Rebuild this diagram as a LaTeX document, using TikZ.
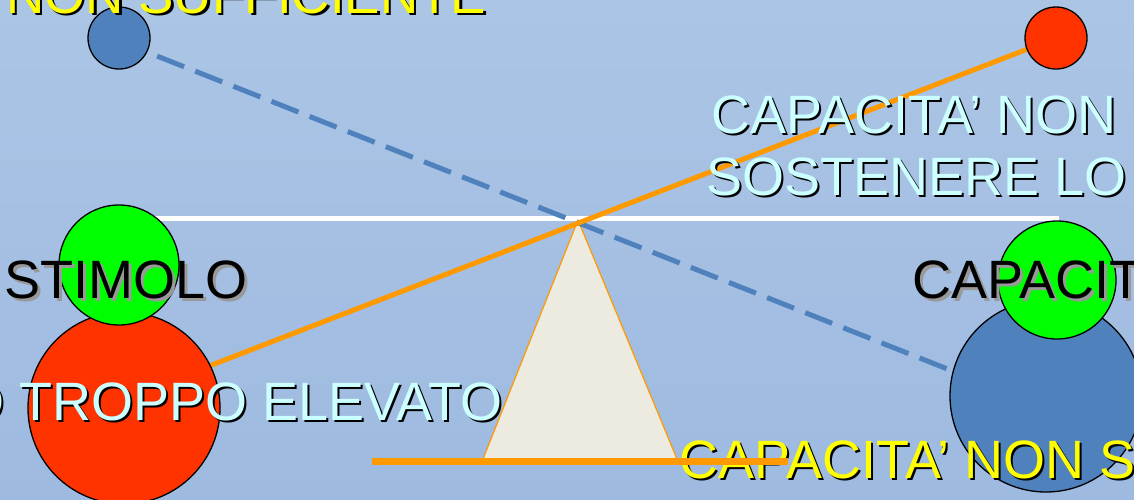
\documentclass[tikz,border=0pt]{standalone}
\usepackage{fontspec}
\setmainfont{Liberation Sans}
\definecolor{bgtop}{RGB}{171,197,229}
\definecolor{bgbot}{RGB}{158,186,224}
\definecolor{yelT}{RGB}{255,255,0}
\definecolor{cyaT}{RGB}{204,255,255}
\definecolor{orL}{RGB}{255,153,0}
\definecolor{redC}{RGB}{255,51,0}
\definecolor{bluC}{RGB}{79,129,189}
\definecolor{grnC}{RGB}{0,255,0}
\definecolor{triF}{RGB}{237,234,224}
\begin{document}
\begin{tikzpicture}[x=1pt,y=-1pt,
  tx/.style={anchor=base west, inner sep=0pt, font=\fontsize{54}{62}\selectfont},
  txs/.style={anchor=base west, inner sep=0pt, font=\fontsize{53}{62}\selectfont},
  shd/.style={tx, text=black},
  shdg/.style={tx, text=black!40},
  ball/.style={circle, draw=black, line width=1.3pt, inner sep=0pt, minimum size=#1},
  lever/.style={draw=orL, line width=5pt},
  dashline/.style={draw=bluC, line width=5pt, dash pattern=on 29pt off 12pt}
]
\useasboundingbox (0,0) rectangle (1134,499);
\clip (0,0) rectangle (1134,499);
\shade[top color=bgtop, bottom color=bgbot] (0,0) rectangle (1134,499);

% white beam
\coordinate (wA) at (155,218);
\coordinate (wB) at (1059,218);
\draw[white, line width=5pt] (wA) -- (wB);

% fulcrum
\coordinate (apex) at (578,220);
\coordinate (bl) at (483,459);
\coordinate (br) at (677,459);
\filldraw[fill=triF, draw=orL, line width=1.2pt, line join=round] (apex) -- (bl) -- (br) -- cycle;

% lines
\coordinate (dA) at (119,41);
\coordinate (dB) at (1046,408);
\draw[dashline] (dA) -- (dB);
\coordinate (lA) at (124,399);
\coordinate (lB) at (1056,38);
\draw[lever] (lA) -- (lB);

% circles
\node[ball=192pt, fill=redC] (redL) at (124,408) {};
\node[ball=120pt, fill=grnC] (grnL) at (119,265) {};
\node[ball=192pt, fill=bluC] (bluR) at (1046,396) {};
\node[ball=118pt, fill=grnC] (grnR) at (1057,280) {};
\node[ball=62pt, fill=bluC] (bluS) at (119,38) {};
\node[ball=62pt, fill=redC] (redS) at (1056,38) {};

% texts
\node[txs, text=black] (t1s) at (8.5,15.5) {NON SUFFICIENTE};
\node[txs, text=yelT] (t1) at (6,13) {NON SUFFICIENTE};

\node[shd] (t2s) at (713.5,135.5) {CAPACITA’ NON};
\node[tx, text=cyaT] (t2) at (711,133) {CAPACITA’ NON};
\node[shd] (t3s) at (708.5,197.5) {SOSTENERE LO};
\node[tx, text=cyaT] (t3) at (706,195) {SOSTENERE LO};

\node[shdg] (t4s) at (7,301) {STIMOLO};
\node[tx, text=black] (t4) at (4,298) {STIMOLO};

\node[shdg] (t5s) at (915,301) {CAPACIT};
\node[tx, text=black] (t5) at (912,298) {CAPACIT};

\node[shd] (t6s) at (-35.5,422.5) {O TROPPO ELEVATO};
\node[tx, text=cyaT] (t6) at (-38,420) {O TROPPO ELEVATO};

\node[shd] (t7s) at (681.5,480.5) {CAPACITA’ NON S};
\node[tx, text=yelT] (t7) at (679,478) {CAPACITA’ NON S};

% base bar
\coordinate (bA) at (372,461);
\coordinate (bB) at (788,461);
\draw[orL, line width=7pt] (bA) -- (bB);
\end{tikzpicture}
\end{document}
